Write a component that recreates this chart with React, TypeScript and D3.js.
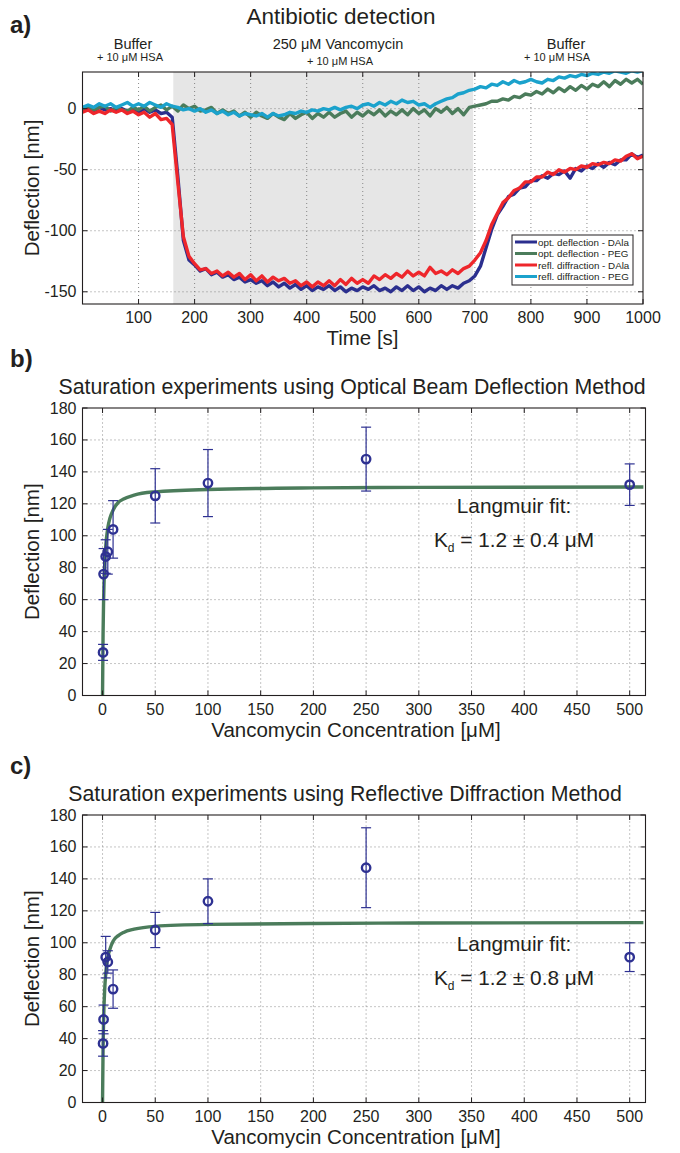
import React from 'react';
import * as d3 from 'd3';

const FONT = '"Liberation Sans", Arial, Helvetica, sans-serif';
const INK = '#231f20';

// ---- panel a: antibiotic detection traces, one value every 10 s (0..1000 s)
const TIME_STEP = 10;
const optDAla = [
  -1, 1, -2, 1, -1, 0, -2, 0, -2, -1, -3, 0, -3, -1, -4, -3, -7, -55, -108, -124,
  -128, -133, -131, -136, -134, -138, -136, -140, -138, -142, -140, -143, -141, -145, -142, -146, -143, -147, -144, -148,
  -145, -149, -146, -148, -145, -149, -146, -150, -147, -149, -146, -148, -145, -149, -147, -150, -146, -149, -145, -149,
  -146, -150, -147, -149, -145, -148, -145, -147, -143, -141, -137, -129, -114, -99, -87, -80, -72, -70, -65, -64,
  -59, -59, -55, -57, -53, -54, -51, -57, -49, -51, -47, -49, -45, -48, -44, -46, -42, -42, -37, -40, -38,
];
const optPEG = [
  0, 2, -1, 1, 2, -2, 1, -1, -2, 1, -1, 2, -2, 1, 3, -1, 2, -2, 3, 0,
  2, -2, -1, 1, -4, -1, -4, -2, -6, -3, -7, -3, -6, -8, -4, -7, -9, -4, -8, -5,
  -3, -8, -4, -7, -3, -7, -4, -2, -7, -3, -6, -2, -5, -1, -6, -2, -5, -1, -5, 0,
  -4, -1, -6, 0, -3, 1, -4, 0, -5, 1, 2, 3, 4, 6, 6, 8, 7, 10, 9, 12,
  11, 14, 12, 16, 13, 17, 14, 18, 15, 19, 16, 20, 18, 22, 18, 23, 20, 24, 21, 24, 20,
];
const reflDAla = [
  -3, -1, -4, -2, -4, -1, -3, -1, -4, -2, -5, -3, -7, -4, -9, -8, -13, -60, -105, -121,
  -127, -132, -131, -135, -133, -137, -134, -138, -135, -140, -136, -141, -137, -142, -138, -141, -139, -143, -141, -145,
  -142, -146, -142, -145, -141, -145, -140, -144, -139, -143, -140, -143, -137, -140, -136, -139, -135, -138, -133, -137,
  -134, -137, -130, -135, -133, -136, -132, -135, -131, -129, -124, -118, -108, -95, -86, -77, -73, -67, -65, -60,
  -60, -56, -56, -52, -54, -50, -52, -49, -50, -47, -48, -45, -46, -44, -45, -42, -43, -39, -37, -41, -39,
];
const reflPEG = [
  1, 3, 1, 4, 2, 4, 1, 3, 5, 2, 4, 2, 5, 3, 1, 4, 2, 1, -1, 0,
  -2, 0, -3, -1, -4, -2, -5, -3, -6, -4, -5, -6, -4, -7, -4, -6, -5, -3, -4, -2,
  -3, -1, -2, 0, -1, 1, -1, 1, 2, 0, 3, 4, 2, 5, 3, 6, 4, 7, 5, 6,
  3, 4, 1, 4, 6, 8, 9, 12, 13, 15, 16, 18, 17, 20, 19, 22, 20, 23, 21, 22,
  24, 22, 21, 24, 23, 26, 25, 27, 26, 28, 27, 29, 28, 30, 29, 31, 30, 29, 31, 30, 31,
];
const traces = [optDAla, optPEG, reflDAla, reflPEG];
const traceNames = ['opt. deflection - DAla', 'opt. deflection - PEG', 'refl. diffraction - DAla', 'refl. diffraction - PEG'];
const traceColors = ['#2b2f8e', '#4b7c5b', '#ee262b', '#1ba2cc'];
const injection = [162, 697];
const timeTicks = [100, 200, 300, 400, 500, 600, 700, 800, 900, 1000];
const deflTicks = [-150, -100, -50, 0];

// ---- panels b and c: saturation experiments
const conc = [0.5, 1, 3, 5, 10, 50, 100, 250, 500];
const obdMean = [27, 76, 87, 90, 104, 125, 133, 148, 132];
const obdErr = [5, 16, 10.5, 14, 18, 17, 21, 20, 13];
const rdMean = [37, 52, 91, 88, 71, 108, 126, 147, 91];
const rdErr = [8, 9, 13, 7, 12, 11, 14, 25, 9];
const fitConc = [0, 0.5, 1, 2, 3, 5, 7, 10, 15, 20, 30, 50, 100, 200, 300, 513];
const obdFit = [0, 38, 59, 81, 93, 105, 111, 116, 121, 123, 125.5, 127.5, 129, 130, 130.3, 130.5];
const rdFit = [0, 33, 51, 70, 80.5, 91, 96, 101, 104.5, 106.5, 108.5, 110.3, 111.5, 112.1, 112.4, 112.6];
const concTicks = [0, 50, 100, 150, 200, 250, 300, 350, 400, 450, 500];
const satTicks = [0, 20, 40, 60, 80, 100, 120, 140, 160, 180];

type Lin = d3.ScaleLinear<number, number>;

function Grid({ x, y, xt, yt }: { x: Lin; y: Lin; xt: number[]; yt: number[] }) {
  const [x0, x1] = x.range();
  const [y0, y1] = y.range();
  return (
    <g stroke="#6d6d6d" strokeWidth={0.8} strokeDasharray="1 3">
      {xt.filter(t => Math.abs(x(t) - x0) > 2 && Math.abs(x(t) - x1) > 2).map(t => (
        <line key={'x' + t} x1={x(t)} x2={x(t)} y1={y0} y2={y1} />
      ))}
      {yt.filter(t => Math.abs(y(t) - y0) > 2 && Math.abs(y(t) - y1) > 2).map(t => (
        <line key={'y' + t} x1={x0} x2={x1} y1={y(t)} y2={y(t)} />
      ))}
    </g>
  );
}

function Box({ x, y, xt, yt }: { x: Lin; y: Lin; xt: number[]; yt: number[] }) {
  const [x0, x1] = x.range();
  const [y0, y1] = y.range(); // y0 bottom, y1 top
  const tl = 5;
  return (
    <g>
      <rect x={x0} y={y1} width={x1 - x0} height={y0 - y1} fill="none" stroke={INK} strokeWidth={1.1} />
      <g stroke={INK} strokeWidth={1}>
        {xt.map(t => (
          <g key={'tx' + t}>
            <line x1={x(t)} x2={x(t)} y1={y0} y2={y0 - tl} />
            <line x1={x(t)} x2={x(t)} y1={y1} y2={y1 + tl} />
          </g>
        ))}
        {yt.map(t => (
          <g key={'ty' + t}>
            <line x1={x0} x2={x0 + tl} y1={y(t)} y2={y(t)} />
            <line x1={x1} x2={x1 - tl} y1={y(t)} y2={y(t)} />
          </g>
        ))}
      </g>
      <g fontFamily={FONT} fontSize={16} fill={INK}>
        {xt.map(t => (
          <text key={'lx' + t} x={x(t)} y={y0 + 19} textAnchor="middle">{t}</text>
        ))}
        {yt.map(t => (
          <text key={'ly' + t} x={x0 - 6} y={y(t) + 5.5} textAnchor="end">{t}</text>
        ))}
      </g>
    </g>
  );
}

function Saturation({ top, mean, err, fit, title, titleX, letter, kd, fitY }: {
  top: number; mean: number[]; err: number[]; fit: number[]; title: string; titleX: number;
  letter: string; kd: string; fitY: number;
}) {
  const x = d3.scaleLinear().domain([-19, 515]).range([82.5, 645.5]);
  const y = d3.scaleLinear().domain([0, 180]).range([top + 287.5, top]);
  const fitLine = d3.line<number>()
    .x((_, i) => x(fitConc[i]))
    .y(d => y(d))
    .curve(d3.curveMonotoneX);
  const bottom = top + 287.5;
  return (
    <g>
      <text x={10} y={top - 41} fontFamily={FONT} fontSize={24} fontWeight="bold" fill={INK}>{letter}</text>
      <text x={titleX} y={top - 14} fontFamily={FONT} fontSize={21.3} fill={INK} textAnchor="middle">{title}</text>
      <Grid x={x} y={y} xt={concTicks} yt={satTicks} />
      <path d={fitLine(fit) || ''} fill="none" stroke="#4b7c5b" strokeWidth={3.4} />
      <g stroke="#2e3192" fill="none">
        {conc.map((c, i) => (
          <g key={i} strokeWidth={1.2}>
            <line x1={x(c)} x2={x(c)} y1={y(mean[i] - err[i])} y2={y(mean[i] + err[i])} />
            <line x1={x(c) - 5} x2={x(c) + 5} y1={y(mean[i] - err[i])} y2={y(mean[i] - err[i])} />
            <line x1={x(c) - 5} x2={x(c) + 5} y1={y(mean[i] + err[i])} y2={y(mean[i] + err[i])} />
          </g>
        ))}
        {conc.map((c, i) => (
          <circle key={'m' + i} cx={x(c)} cy={y(mean[i])} r={4.2} strokeWidth={2.4} />
        ))}
      </g>
      <Box x={x} y={y} xt={concTicks} yt={satTicks} />
      <g fontFamily={FONT} fontSize={20.8} fill={INK} textAnchor="middle">
        <text x={514} y={top + fitY}>Langmuir fit:</text>
        <text x={514} y={top + fitY + 34}>
          K<tspan fontSize={12} dy={5}>d</tspan><tspan dy={-5}>{` = 1.2 ± ${kd} μM`}</tspan>
        </text>
      </g>
      <text x={356} y={bottom + 41} fontFamily={FONT} fontSize={20.5} fill={INK} textAnchor="middle">Vancomycin Concentration [μM]</text>
      <text transform={`translate(39,${(top + bottom) / 2}) rotate(-90)`} fontFamily={FONT} fontSize={20.5} fill={INK} textAnchor="middle">Deflection [nm]</text>
    </g>
  );
}

function Detection() {
  const x = d3.scaleLinear().domain([0, 1000]).range([82.5, 643]);
  const y = d3.scaleLinear().domain([-160, 30]).range([304, 72]);
  const line = d3.line<number>().x((_, i) => x(i * TIME_STEP)).y(d => y(d));
  const lg = { x: 512, y: 235, w: 121, h: 50 };
  return (
    <g>
      <text x={10} y={33} fontFamily={FONT} fontSize={24} fontWeight="bold" fill={INK}>a)</text>
      <text x={341} y={24} fontFamily={FONT} fontSize={22.5} fill={INK} textAnchor="middle">Antibiotic detection</text>
      <g fontFamily={FONT} fill={INK} textAnchor="middle">
        <text x={133} y={49} fontSize={14.5}>Buffer</text>
        <text x={130} y={61} fontSize={11}>+ 10 μM HSA</text>
        <text x={338} y={49} fontSize={14.5}>250 μM Vancomycin</text>
        <text x={340} y={65} fontSize={11}>+ 10 μM HSA</text>
        <text x={566} y={49} fontSize={14.5}>Buffer</text>
        <text x={557} y={61} fontSize={11}>+ 10 μM HSA</text>
      </g>
      <defs>
        <clipPath id="clipA">
          <rect x={82.5} y={72} width={643 - 82.5} height={304 - 72} />
        </clipPath>
      </defs>
      <rect x={x(injection[0])} y={72} width={x(injection[1]) - x(injection[0])} height={232} fill="#e6e6e6" />
      <Grid x={x} y={y} xt={timeTicks} yt={deflTicks} />
      <g clipPath="url(#clipA)" fill="none" strokeWidth={3.4} strokeLinejoin="round">
        {traces.map((s, i) => (
          <path key={i} d={line(s) || ''} stroke={traceColors[i]} />
        ))}
      </g>
      <Box x={x} y={y} xt={timeTicks} yt={deflTicks} />
      <g>
        <rect x={lg.x} y={lg.y} width={lg.w} height={lg.h} fill="#fff" stroke={INK} strokeWidth={1} />
        {traceNames.map((n, i) => (
          <g key={n}>
            <line x1={lg.x + 3} x2={lg.x + 25} y1={lg.y + 7 + i * 11.5} y2={lg.y + 7 + i * 11.5} stroke={traceColors[i]} strokeWidth={3} />
            <text x={lg.x + 26} y={lg.y + 10.5 + i * 11.5} fontFamily={FONT} fontSize={9.8} fill={INK}>{n}</text>
          </g>
        ))}
      </g>
      <text x={362.5} y={345} fontFamily={FONT} fontSize={20.5} fill={INK} textAnchor="middle">Time [s]</text>
      <text transform="translate(39,188) rotate(-90)" fontFamily={FONT} fontSize={20.5} fill={INK} textAnchor="middle">Deflection [nm]</text>
    </g>
  );
}

export default function App() {
  return (
    <svg width={680} height={1153} style={{ position: 'absolute', left: 0, top: 0, background: '#fff' }}>
      <rect width={680} height={1153} fill="#fff" />
      <Detection />
      <Saturation top={408} mean={obdMean} err={obdErr} fit={obdFit} letter="b)" kd="0.4" fitY={105} titleX={352}
        title="Saturation experiments using Optical Beam Deflection Method" />
      <Saturation top={815} mean={rdMean} err={rdErr} fit={rdFit} letter="c)" kd="0.8" fitY={136} titleX={345}
        title="Saturation experiments using Reflective Diffraction Method" />
    </svg>
  );
}
